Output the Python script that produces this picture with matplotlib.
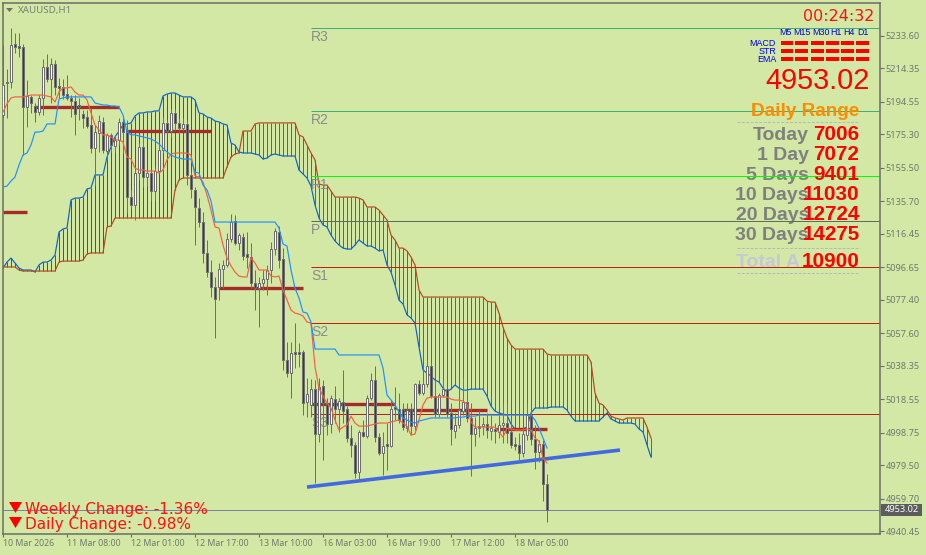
import matplotlib
matplotlib.use('Agg')
import matplotlib.pyplot as plt
from matplotlib.patches import Polygon, Rectangle
from matplotlib.transforms import Affine2D

# XAUUSD H1 candles
opens = [5186.8,5206.3,5206.3,5228.8,5227.7,5227.1,5191.5,5197.5,5192.1,5188.6,
    5196.9,5215.2,5208.1,5217.0,5204.0,5203.4,5199.2,5196.9,5195.1,5192.7,
    5187.4,5185.6,5180.9,5167.3,5176.1,5182.7,5165.5,5175.0,5168.4,5172.0,
    5182.7,5177.9,5138.2,5133.5,5152.4,5167.9,5150.1,5152.4,5141.8,5153.6,
    5166.1,5182.1,5177.3,5188.0,5182.1,5179.1,5181.5,5151.3,5142.4,5131.7,
    5123.4,5105.1,5093.8,5084.9,5084.9,5095.6,5098.0,5113.4,5124.0,5111.0,
    5114.6,5104.5,5102.7,5087.3,5084.3,5087.3,5089.7,5095.0,5107.4,5117.5,
    5101.5,5041.7,5034.0,5046.4,5046.4,5046.4,5016.8,5015.1,5024.5,4997.9,
    5026.3,5016.2,5003.8,5018.6,5012.7,5016.8,5012.7,4995.5,4991.4,4975.4,
    4999.1,4996.7,5019.2,5029.9,4996.1,4986.6,4992.0,4990.8,5013.9,5012.7,
    5012.7,5001.4,5012.7,5002.6,5027.5,5022.2,5027.5,5038.2,5020.4,5009.7,
    5021.0,5024.5,5010.3,4999.7,5003.2,5011.5,5016.8,5007.4,4997.9,5002.6,
    5002.6,5003.8,4999.7,5000.9,4999.1,5003.2,5004.4,4999.1,4992.0,4991.4,
    4986.6,4997.3,5009.1,4994.9,4987.2,4992.0,4968.3]
highs = [5228.3,5214.0,5238.3,5235.4,5235.4,5228.8,5207.5,5198.6,5193.9,5198.6,
    5220.0,5222.9,5220.6,5219.4,5208.7,5208.1,5210.5,5198.6,5198.6,5196.9,
    5189.8,5189.8,5190.9,5180.9,5186.8,5185.6,5176.1,5176.1,5175.0,5185.0,
    5185.0,5183.8,5142.4,5156.0,5170.2,5173.8,5154.2,5154.2,5156.0,5170.2,
    5185.6,5183.8,5190.3,5190.3,5185.0,5185.0,5183.8,5153.0,5144.2,5137.6,
    5129.4,5112.8,5100.9,5090.9,5099.2,5100.9,5116.9,5128.2,5127.6,5116.9,
    5116.9,5117.5,5111.0,5095.0,5090.9,5095.0,5098.0,5111.6,5119.9,5121.1,
    5108.0,5052.4,5052.4,5063.6,5051.8,5047.6,5031.0,5030.5,5029.9,5031.0,
    5029.9,5019.2,5021.0,5026.3,5019.2,5035.8,5014.5,5003.2,4993.2,5000.3,
    5006.2,5021.0,5034.0,5038.2,4998.5,4999.1,5004.4,5018.0,5025.7,5022.2,
    5016.2,5016.2,5016.2,5028.1,5029.9,5038.8,5041.7,5040.5,5029.9,5022.2,
    5029.9,5025.1,5016.2,5010.3,5025.1,5031.6,5023.9,5016.2,5008.0,5012.1,
    5008.0,5010.3,5009.1,5004.4,5009.1,5016.2,5016.2,5006.2,4996.1,4998.5,
    5002.0,5016.2,5012.1,5003.2,4994.3,4994.3,4974.2]
lows = [5185.0,5185.0,5202.8,5223.5,5221.1,5163.1,5179.7,5188.0,5182.7,5186.8,
    5186.8,5206.3,5193.9,5198.6,5196.9,5196.3,5195.7,5185.6,5175.0,5183.8,
    5179.1,5179.1,5164.3,5145.3,5164.9,5164.3,5160.2,5164.9,5164.9,5169.0,
    5164.3,5128.8,5131.7,5124.6,5148.3,5144.2,5144.7,5136.5,5136.5,5152.4,
    5164.3,5176.1,5173.8,5177.3,5176.1,5177.3,5145.3,5137.6,5109.8,5120.5,
    5099.2,5090.9,5079.0,5054.7,5077.2,5084.3,5096.8,5111.6,5109.8,5106.9,
    5100.9,5096.2,5084.3,5071.3,5061.2,5083.2,5080.2,5087.3,5103.9,5096.2,
    5035.8,5031.6,5019.2,5037.0,5037.6,5009.1,5007.9,5007.9,4968.9,4993.2,
    4982.5,4997.3,4998.5,5004.4,4999.1,5004.4,4993.2,4984.3,4971.8,4970.6,
    4996.1,4995.5,5018.0,4993.2,4985.4,4973.6,4976.6,4990.2,5006.2,5004.4,
    5000.3,4999.1,4997.3,5000.3,5021.0,5021.0,5025.7,5019.2,5007.9,5007.9,
    5019.8,5007.9,4991.4,4995.5,5001.4,5009.1,5005.0,4973.0,4990.8,4996.1,
    4997.3,4995.5,4994.3,4992.6,4995.5,4992.6,4992.6,4989.6,4988.4,4981.3,
    4984.3,4994.3,4991.4,4977.2,4981.3,4958.2,4945.8]
closes = [5204.6,5205.7,5228.3,5227.1,5226.5,5191.5,5198.0,5193.9,5188.6,5196.9,
    5215.2,5208.1,5217.0,5203.4,5202.8,5198.6,5196.9,5195.1,5187.4,5191.5,
    5185.0,5180.3,5167.3,5176.7,5183.2,5166.1,5175.0,5169.0,5172.0,5182.7,
    5176.7,5138.2,5133.5,5152.4,5167.9,5150.1,5152.4,5141.8,5153.6,5166.1,
    5182.1,5177.3,5188.0,5182.1,5179.1,5181.5,5151.3,5143.0,5132.3,5123.4,
    5105.1,5093.8,5084.9,5077.8,5095.6,5098.0,5113.4,5123.4,5111.0,5115.7,
    5103.3,5102.7,5087.3,5084.3,5087.3,5089.7,5095.0,5107.4,5118.1,5100.9,
    5041.7,5034.0,5045.8,5045.3,5045.3,5016.2,5021.6,5024.5,4997.9,5025.7,
    5016.2,5003.8,5019.2,5012.7,5017.4,5011.5,4995.5,4991.4,4974.8,4999.1,
    4996.7,5019.2,5029.9,4996.1,4986.6,4990.8,4990.8,5012.7,5012.7,5006.2,
    5002.0,5012.1,5002.6,5027.5,5022.2,5027.5,5038.2,5020.4,5009.7,5021.0,
    5024.5,5009.7,5000.9,5003.2,5012.1,5016.8,5007.4,4997.9,5001.4,5001.4,
    5003.8,5000.3,5001.4,4999.7,5003.2,5004.4,4998.5,4991.4,4990.8,4986.6,
    4997.9,5009.1,4994.9,4987.2,4992.0,4968.3,4953.02]

# ichimoku lines
tenkan = [5188.6,5193.3,5196.9,5197.5,5197.5,5197.5,5198.0,5198.6,5198.6,5198.6,
    5198.6,5198.0,5197.5,5194.5,5200.4,5202.8,5202.8,5203.4,5200.4,5198.6,
    5198.6,5195.7,5188.0,5180.9,5177.9,5175.0,5175.0,5173.8,5172.0,5172.0,
    5170.8,5161.9,5160.7,5155.4,5154.2,5154.2,5153.6,5153.6,5153.6,5152.4,
    5154.2,5160.2,5163.7,5164.3,5164.3,5164.3,5164.3,5163.1,5150.7,5150.1,
    5147.1,5139.4,5130.5,5120.5,5119.9,5109.8,5102.1,5097.4,5093.8,5091.4,
    5090.9,5090.9,5102.1,5099.2,5095.0,5095.0,5095.0,5091.4,5090.9,5091.4,
    5083.2,5077.2,5071.3,5069.5,5068.9,5067.8,5064.2,5063.6,5037.6,5025.1,
    5020.4,5016.2,5013.3,5006.2,5000.3,5002.0,5003.2,5008.5,5004.4,5002.6,
    5002.6,5002.6,5003.2,5003.8,5004.4,5004.4,5004.4,5005.0,5005.6,5006.2,
    5004.4,5002.6,4997.3,4997.9,5006.2,5015.1,5019.2,5019.8,5019.8,5019.8,
    5019.8,5019.8,5018.6,5018.0,5018.0,5017.4,5015.7,5005.0,5002.0,5002.0,
    5002.0,5002.0,5002.0,5002.0,4999.1,4996.1,5001.4,5000.9,5000.3,5000.3,
    5000.3,5000.9,5000.3,4995.5,4993.7,4983.7,4980.7]
kijun = [5144.2,5144.7,5147.7,5150.1,5157.2,5163.1,5164.3,5169.0,5176.7,5176.7,
    5177.3,5181.5,5181.5,5181.5,5196.3,5196.9,5197.5,5197.5,5197.5,5197.5,
    5197.5,5197.5,5197.5,5193.9,5193.3,5192.7,5192.7,5192.1,5192.1,5191.5,
    5186.8,5176.7,5175.0,5175.0,5174.4,5173.8,5173.2,5172.6,5171.4,5169.6,
    5167.3,5164.9,5163.1,5161.9,5161.3,5160.7,5160.7,5160.7,5153.0,5152.4,
    5145.3,5142.4,5135.9] + [5123.4] * 16 + [5119.9,5110.4,5109.2,5095.0,5084.3,
    5078.4,5070.1,5069.5,5064.2] + [5048.2] * 6 + [5044.7] * 11 + [5037.0,5021.0,
    5018.0,5015.1,5010.9,5007.4,5006.2,5005.0,5004.4,5005.6,5006.2,5006.8] + [5007.4] * 7 + [5007.9,5007.9,
    5008.5,5008.5,5008.5] + [5009.1] * 14 + [5006.2,5001.4,4995.5,4989.6]
span_a = [5096.2,5099.7,5102.1,5099.2,5096.2,5095.0,5095.0,5095.0,5093.8,5098.0,5099.7,5099.7,5100.9,5103.9,
    5117.5,5119.3,5119.9,5136.5,5137.6,5137.6,5138.2,5143.0,5143.6,
    5151.3,5151.3,5151.3,5161.9,5167.9,5173.8,5177.3,5180.9,5181.5,5182.1,5186.2,5188.0,5188.0,5188.6,5188.6,5189.2,5189.2,
    5198.0,5199.2,5199.8,5199.8,5198.6,5197.5,5197.5,5197.5,5195.7,5188.0,5187.4,5185.6,5185.0,5183.2,5182.7,5181.5,5180.9,
    5170.2,5169.0,5164.9,5164.3,5164.3,5164.3,5163.7,5163.1,5160.7,5161.3,5163.1,5163.7,5163.1,5162.5,5162.5,5162.5,5162.5,
    5154.2,5151.9,5149.5,5144.7,5133.5,5125.8,5121.7,5120.5,5115.7,5112.2,5109.8,5108.0,5107.4,5107.4,5109.8,5112.8,5111.0,5109.2,5109.2,5108.0,5106.3,5106.9,
    5098.0,5093.8,5086.1,5077.2,5074.9,5068.4,5066.6,5063.6,5049.4,
    5035.8,5034.0,5032.2,5029.9,5028.7,5025.1,5022.8,5024.5,5026.9,5025.1,5023.9,5023.9,5024.5,5024.5,5024.5,5024.5,
    5020.4,5014.5,5011.5,5010.3,5009.7,5009.1,5003.8,5000.9,5000.3,5000.9,5002.0,5010.3,5013.3,
    5013.3,5013.3,5013.3,5013.9,5013.9,5013.9,5013.9,5012.1,5008.5,5005.6,
    5005.6,5005.6,5005.6,5005.6,5005.6,5005.6,
    5008.0,5010.3,5006.8,5005.6,5004.4,5004.4,5004.4,5004.4,5003.8,5000.9,4999.1,4991.4,4984.3]
span_b = [5096.8] * 4 + [5095.0] + [5094.4] * 9 + [5099.7] + [5100.3] * 5 + [5100.9,5104.5] + [5105.1] * 4 + [
    5120.5,5121.1] + [5125.8] * 15 + [5142.4,5148.3] + [5149.5] * 11 + [5156.0,5161.9,5163.7,5164.3] + [
    5177.3] * 3 + [5181.5] + [5182.1] * 10 + [5175.0,5173.8,5169.0,5164.3,5160.2,5145.9,5145.3,5145.3,5141.8] + [
    5138.2] * 6 + [5137.6,5136.5] + [5132.3] * 3 + [5130.5,5127.6,5124.6,5115.7,5112.8,5108.0,5108.0,5106.3,5102.7,
    5098.0,5083.2] + [5079.0] * 16 + [5076.6,5076.0,5076.0,5069.5,5061.2,5054.7,5050.6] + [5048.2] * 8 + [5045.3] + [
    5044.7] * 10 + [5040.5,5022.2,5016.2,5015.1,5012.1,5008.5,5007.4,5006.8,5006.2] + [5007.4] * 5 + [5002.0,4995.5]

# pivot levels
pivot_names = ['R3', 'R2', 'R1', 'P', 'S1', 'S2', 'S3']
pivot_prices = [5238.3, 5189.2, 5150.7, 5124.0, 5096.8, 5063.6, 5009.7]
pivot_colors = ['#3cb371', '#3cb371', '#00ff00', '#5f6b5f', '#c81e0a', '#c81e0a', '#b8201a']

# daily open segments: first bar, last bar, price
daily_start = [0, 8, 31, 54, 77, 100, 123]
daily_end = [6, 29, 52, 75, 98, 121, 136]
daily_price = [5129.4, 5191.8, 5177.6, 5084.6, 5015.7, 5012.4, 5000.6]

trend_bars = [76, 154.25]
trend_prices = [4966.5, 4988.4]
last_price = 4953.02

y_ticks = ['5233.60', '5214.35', '5194.55', '5175.30', '5155.50', '5135.70', '5116.45', '5096.65',
           '5077.40', '5057.60', '5038.35', '5018.55', '4998.75', '4979.50', '4959.70', '4940.45']
x_ticks = ['10 Mar 2026', '11 Mar 08:00', '12 Mar 01:00', '12 Mar 17:00', '13 Mar 10:00',
           '16 Mar 03:00', '16 Mar 19:00', '17 Mar 12:00', '18 Mar 05:00']

timeframes = ['M5', 'M15', 'M30', 'H1', 'H4', 'D1']
signals = ['MACD', 'STR', 'EMA']
range_labels = ['Today', '1 Day', '5 Days', '10 Days', '20 Days', '30 Days']
range_values = ['7006', '7072', '9401', '11030', '12724', '14275']
total_value = '10900'

BG = '#d2e8a4'
FRAME = '#6c6c6c'
TXT = '#6f7a70'
TICK_FONT = 'Noto Sans'
LW1 = 0.72  # one pixel at 100 dpi

fig = plt.figure(figsize=(9.26, 5.55), dpi=100, facecolor=BG)
ax = fig.add_axes([3 / 926, 21 / 555, 877 / 926, 531 / 555], facecolor=BG)
ax.set_xlim(0, 219.25)
ax.set_ylim(4938.7, 5253.1)

# screen pixels, origin top left, for the indicator panel
px = Affine2D().scale(1, -1).translate(0, 555)

# cloud
bars_cloud = range(len(span_a))
for i, a, b in zip(bars_cloud, span_a, span_b):
    col = '#0a64c8' if a >= b else '#b5481e'
    ax.vlines(i, min(a, b), max(a, b), color=col, lw=LW1, zorder=1)
ax.plot(bars_cloud, span_a, color='#0a64c8', lw=0.85, zorder=1.2)
ax.plot(bars_cloud, span_b, color='#b5481e', lw=0.85, zorder=1.2)

# pivots
for name, price, col in zip(pivot_names, pivot_prices, pivot_colors):
    ax.hlines(price, 77, 219.25, color=col, lw=LW1, zorder=2)
    ax.text(77, price - 1.0, name, color='#8c8c8c', fontsize=10, family='Liberation Sans',
            va='top', ha='left', zorder=1.9)
ax.hlines(last_price, 0, 219.25, color='#7585a5', lw=LW1, zorder=2)

for s, e, p in zip(daily_start, daily_end, daily_price):
    ax.hlines(p, s, e, color='#a52a2a', lw=2.4, zorder=2.5)
ax.plot(trend_bars, trend_prices, color='#4169e1', lw=2.6, zorder=2.5, solid_capstyle='butt')

# candles
for i, (o, h, l, c) in enumerate(zip(opens, highs, lows, closes)):
    ax.vlines(i, l, h, color='#707070', lw=LW1, zorder=3)
    face = 'white' if c > o else '#3c3c3c'
    ax.add_patch(Rectangle((i - 0.36, min(o, c)), 0.72, abs(c - o), facecolor=face, edgecolor='#6e6e6e',
                           lw=LW1, zorder=3.1))

ax.plot(range(len(tenkan)), tenkan, color='#f4603f', lw=0.85, zorder=3.5)
ax.plot(range(len(kijun)), kijun, color='#1e90ff', lw=0.85, zorder=3.5)

# frame and axes
for name in ['left', 'top', 'right', 'bottom']:
    ax.spines[name].set_color(FRAME)
    ax.spines[name].set_linewidth(1.1)
ax.yaxis.tick_right()
ax.set_yticks([float(v) for v in y_ticks])
ax.set_yticklabels(y_ticks, fontsize=6.6, color=TXT, family=TICK_FONT)
ax.tick_params(axis='y', length=3, width=0.8, color=FRAME, pad=1)
ax.set_xticks(range(0, 16 * len(x_ticks), 16))
ax.set_xticklabels(x_ticks, fontsize=6.3, color=TXT, family=TICK_FONT, ha='left')
ax.tick_params(axis='x', length=2.5, width=0.8, color=FRAME, pad=1)

# current price tag
ax.add_patch(Rectangle((881, 504), 41, 12, transform=px, facecolor='#5c5c5c', edgecolor='none',
                       clip_on=False, zorder=6))
ax.text(901.5, 510, f'{last_price:.2f}', transform=px, color='white', fontsize=6.6, family=TICK_FONT,
        ha='center', va='center', clip_on=False, zorder=7)

# symbol caption
ax.add_patch(Polygon([(6, 8), (13, 8), (9.5, 12)], transform=px, facecolor='#707070', edgecolor='none', zorder=6))
ax.text(18, 10, 'XAUUSD,H1', transform=px, color='#75807a', fontsize=7, family=TICK_FONT,
        ha='left', va='center', zorder=6)

# indicator panel
ax.text(874, 21, '00:24:32', transform=px, color='#ff1010', fontsize=11.5, family='DejaVu Sans',
        ha='right', va='baseline', zorder=6)

tf_x = [786, 801.5, 821, 836, 848.5, 862.5]
seg_x = [(780.5, 792.5), (795, 808), (810.5, 824), (826, 839), (840.5, 854), (855.5, 869)]
row_y = [43, 51, 59]
for t, x in zip(timeframes, tf_x):
    ax.text(x, 35, t, transform=px, color='#0000e0', fontsize=6.4, family='Liberation Sans',
            ha='center', va='baseline', zorder=6)
for s, y in zip(signals, row_y):
    ax.text(776, y + 3, s, transform=px, color='#0000e0', fontsize=6.4, family='Liberation Sans',
            ha='right', va='baseline', zorder=6)
    for x0, x1 in seg_x:
        ax.add_patch(Rectangle((x0, y - 2), x1 - x0, 4, transform=px, facecolor='#ff0000', edgecolor='none',
                               zorder=6, antialiased=False))

ax.text(870, 89, f'{last_price:.2f}', transform=px, color='#ff0000', fontsize=20.8, family='Liberation Sans',
        ha='right', va='baseline', zorder=6)
ax.text(805, 116, 'Daily Range', transform=px, color='#ff8c00', fontsize=13.6, family='Liberation Sans',
        weight='bold', ha='center', va='baseline', zorder=6)

for y in [121.5, 248, 273]:
    ax.plot([737, 859], [y, y], transform=px, color='#b8b8c0', lw=0.7, ls=(0, (3, 1.5)), zorder=1.8)

row_base = [140.5, 160.5, 180.5, 200.5, 220.5, 240.5]
for lab, val, y in zip(range_labels, range_values, row_base):
    ax.text(809, y, lab, transform=px, color='#808080', fontsize=14, family='Liberation Sans',
            weight='bold', ha='right', va='baseline', zorder=1.9)
    ax.text(859.5, y, val, transform=px, color='#ff0000', fontsize=14.9, family='Liberation Sans',
            weight='bold', ha='right', va='baseline', zorder=6)
ax.text(736, 267, 'Total A', transform=px, color='#c6c8d6', fontsize=14, family='Liberation Sans',
        weight='bold', ha='left', va='baseline', zorder=1.9)
ax.text(859.5, 267, total_value, transform=px, color='#ff0000', fontsize=14.9, family='Liberation Sans',
        weight='bold', ha='right', va='baseline', zorder=6)

# change readout
for top, txt, base in [(502, 'Weekly Change: -1.36%', 514), (517, 'Daily Change: -0.98%', 529)]:
    ax.add_patch(Polygon([(9, top), (22, top), (15.5, top + 11)], transform=px, facecolor='#ff0000',
                         edgecolor='none', zorder=6))
    ax.text(25, base, txt, transform=px, color='#ff1010', fontsize=11, family='DejaVu Sans',
            ha='left', va='baseline', zorder=6)

fig.savefig('out.png', dpi=100, facecolor=BG)
